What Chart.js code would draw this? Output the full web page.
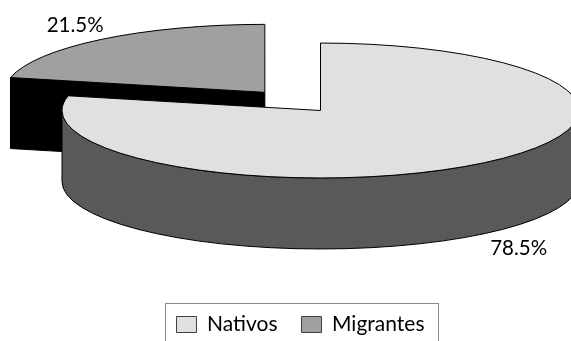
<!DOCTYPE html>
<html>
<head>
<meta charset="utf-8">
<script src="https://cdn.jsdelivr.net/npm/chart.js@4.4.1/dist/chart.umd.min.js"></script>
<style>
  html, body { margin: 0; padding: 0; background: #fff; overflow: hidden; }
  #wrap { width: 571px; height: 341px; overflow: hidden; }
</style>
</head>
<body>
<div id="wrap"><canvas id="pie" width="571" height="345"></canvas></div>
<script>
const CATEGORIES = ['Nativos', 'Migrantes'];
const SHARES = [78.5, 21.5];
const TOP_COLORS = ['#e0e0e0', '#a0a0a0'];
const SIDE_COLORS = ['#595959', '#000000'];
const EXPLODE = [0, 356];

// ===== 3D VIEW =====
// where the pie centre lands, how flat the disc is, how thick it is
const VIEW = { x: 320.5, y: 110.5, tilt: 0.261, depth: 71, labelGap: 30 };
const FONT = 'Lato, "Open Sans", sans-serif';
let proj = null;

// same geometry the ArcElement uses when it draws (offset is /4 in chart.js)
function sliceGeom(el) {
  const o = (el.options.offset || 0) / 4;
  const span = el.endAngle - el.startAngle;
  const h = (el.startAngle + el.endAngle) / 2;
  const fix = 1 - Math.sin(Math.min(Math.PI, span));
  const r = el.outerRadius + o * fix;
  const c = proj(el.x + Math.cos(h) * o, el.y + Math.sin(h) * o);
  return { cx: c[0], cy: c[1], rx: r, ry: r * VIEW.tilt, a0: el.startAngle, a1: el.endAngle, h };
}

function drawSides(ctx, g, color) {
  const D = VIEW.depth;
  ctx.fillStyle = color;
  ctx.strokeStyle = '#000';
  ctx.lineWidth = 1;
  // cut faces that look towards the viewer
  const faces = [];
  if (Math.cos(g.a0) < -1e-6) faces.push(g.a0);
  if (Math.cos(g.a1) > 1e-6) faces.push(g.a1);
  faces.forEach(a => {
    const px = g.cx + g.rx * Math.cos(a), py = g.cy + g.ry * Math.sin(a);
    ctx.beginPath();
    ctx.moveTo(g.cx, g.cy);
    ctx.lineTo(px, py);
    ctx.lineTo(px, py + D);
    ctx.lineTo(g.cx, g.cy + D);
    ctx.closePath();
    ctx.fill();
    ctx.stroke();
  });
  // outer wall, only the front half of the rim
  for (let n = -1; n <= 1; n++) {
    const b0 = Math.max(g.a0, 2 * Math.PI * n);
    const b1 = Math.min(g.a1, 2 * Math.PI * n + Math.PI);
    if (b1 - b0 < 1e-6) continue;
    ctx.beginPath();
    ctx.ellipse(g.cx, g.cy, g.rx, g.ry, 0, b0, b1);
    ctx.ellipse(g.cx, g.cy + D, g.rx, g.ry, 0, b1, b0, true);
    ctx.closePath();
    ctx.fill();
    ctx.stroke();
  }
}

const pie3d = {
  id: 'pie3d',
  beforeDatasetsDraw(chart) {
    const ctx = chart.ctx;
    const arcs = chart.getDatasetMeta(0).data;
    const nx = arcs[0].x, ny = arcs[0].y;
    proj = (x, y) => [x + VIEW.x - nx, VIEW.y + (y - ny) * VIEW.tilt];

    // back slices first
    const order = arcs.map((el, i) => i)
      .sort((a, b) => Math.sin(sliceGeom(arcs[a]).h) - Math.sin(sliceGeom(arcs[b]).h));
    order.forEach(i => drawSides(ctx, sliceGeom(arcs[i]), SIDE_COLORS[i]));

    // chart.js draws the top faces through this squash
    ctx.save();
    ctx.translate(VIEW.x - nx, VIEW.y);
    ctx.scale(1, VIEW.tilt);
    ctx.translate(0, -ny);
  },
  afterDatasetsDraw(chart) {
    const ctx = chart.ctx;
    ctx.restore();
    const arcs = chart.getDatasetMeta(0).data;
    ctx.strokeStyle = '#000';
    ctx.lineWidth = 1;
    arcs.forEach(el => {
      const g = sliceGeom(el);
      ctx.beginPath();
      ctx.moveTo(g.cx, g.cy);
      ctx.ellipse(g.cx, g.cy, g.rx, g.ry, 0, g.a0, g.a1);
      ctx.closePath();
      ctx.stroke();
    });

    // value labels, outside end
    ctx.font = '20.5px ' + FONT;
    ctx.fillStyle = '#000';
    ctx.textAlign = 'center';
    ctx.textBaseline = 'middle';
    arcs.forEach((el, i) => {
      const g = sliceGeom(el);
      const txt = SHARES[i].toFixed(1) + '%';
      const w = ctx.measureText(txt).width;
      const R = g.rx + VIEW.labelGap;
      let ax = g.cx + Math.cos(g.h) * R;
      let ay = g.cy + Math.sin(g.h) * R * VIEW.tilt;
      if (Math.sin(g.h) > 0) ay += VIEW.depth;
      // back labels sit a bit closer in, front ones hang below the wall
      const k = Math.sin(g.h) > 0 ? 1 : 0.45;
      ctx.fillText(txt, ax + Math.cos(g.h) * w / 2 * k, ay + Math.sin(g.h) * 10);
    });
  },
  afterDraw(chart) {
    // frame round the legend
    const boxes = chart.legend.legendHitBoxes;
    if (!boxes || !boxes.length) return;
    const ctx = chart.ctx;
    const first = boxes[0], last = boxes[boxes.length - 1];
    const left = first.left - 12, right = last.left + last.width + 13;
    const top = first.top - 11;
    ctx.save();
    ctx.strokeStyle = '#8a8a8a';
    ctx.lineWidth = 1;
    ctx.strokeRect(Math.round(left) + 0.5, Math.round(top) + 0.5, Math.round(right - left), chart.height - top + 10);
    ctx.restore();
  }
};

new Chart(document.getElementById('pie'), {
  type: 'pie',
  data: {
    labels: CATEGORIES,
    datasets: [{
      data: SHARES,
      backgroundColor: TOP_COLORS,
      borderWidth: 0,
      offset: EXPLODE,
      radius: 258.5,
      cutout: '0%',
      clip: false
    }]
  },
  options: {
    responsive: false,
    animation: false,
    events: [],
    layout: { padding: { left: 30 } },
    plugins: {
      tooltip: { enabled: false },
      legend: {
        position: 'bottom',
        labels: {
          color: '#000',
          font: { family: FONT, size: 21 },
          boxWidth: 20,
          boxHeight: 16,
          padding: 24,
          generateLabels: () => CATEGORIES.map((name, i) => ({
            text: name,
            fillStyle: TOP_COLORS[i],
            strokeStyle: '#3f3f3f',
            lineWidth: 1,
            hidden: false,
            index: i
          }))
        }
      }
    }
  },
  plugins: [pie3d]
});
</script>
</body>
</html>
